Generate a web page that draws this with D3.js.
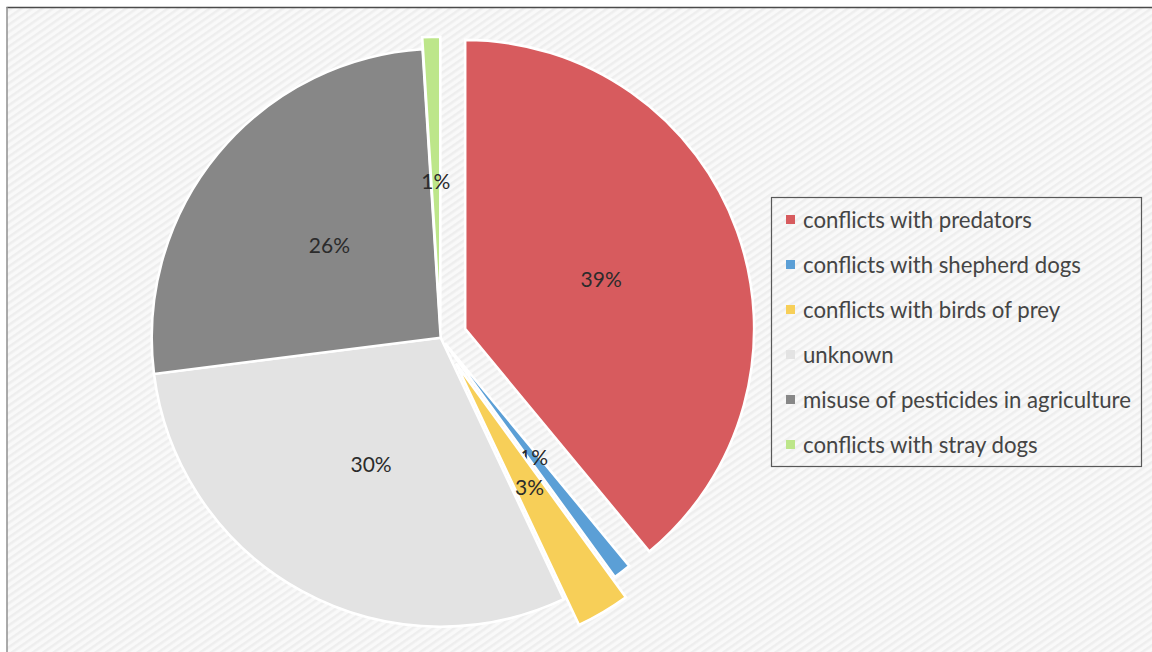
<!DOCTYPE html>
<html>
<head>
<meta charset="utf-8">
<script src="https://cdn.jsdelivr.net/npm/d3@7"></script>
<style>
  html, body { margin: 0; padding: 0; background: #ffffff; }
  svg { display: block; }
</style>
</head>
<body>
<svg id="chart" width="1152" height="652"></svg>
<script>
// Causes of death and their shares (percent)
const causes = [
  "conflicts with predators",
  "conflicts with shepherd dogs",
  "conflicts with birds of prey",
  "unknown",
  "misuse of pesticides in agriculture",
  "conflicts with stray dogs"
];
const shares = [39, 1, 3, 30, 26, 1];

// Slice styling
const sliceColors = ["#d75b5e", "#5b9fd6", "#f7cf58", "#e3e3e3", "#878787", "#bde68a"];
const sliceExplode = [26, 7, 30, 0, 0, 12];

const svg = d3.select("#chart");
const W = 1152, H = 652;

// Fine diagonal texture of the chart area
const defs = svg.append("defs");
const pat = defs.append("pattern")
  .attr("id", "hatch")
  .attr("width", 6).attr("height", 6)
  .attr("patternUnits", "userSpaceOnUse")
  .attr("patternTransform", "rotate(-35)");
pat.append("rect").attr("width", 6).attr("height", 6).attr("fill", "#f9f9f9");
pat.append("rect").attr("width", 6).attr("height", 2.5).attr("fill", "#eeeeee");

// Chart area with frame (top and left edges visible)
svg.append("rect").attr("x", 7).attr("y", 7).attr("width", W).attr("height", H)
  .attr("fill", "url(#hatch)");
svg.append("line").attr("x1", 6.5).attr("x2", W).attr("y1", 7.5).attr("y2", 7.5)
  .attr("stroke", "#4a4a4a").attr("stroke-width", 1.3);
svg.append("line").attr("x1", 7).attr("x2", 7).attr("y1", 7).attr("y2", H)
  .attr("stroke", "#8f8f8f").attr("stroke-width", 1.5);

// Pie
const cx = 440.7, cy = 337.7, R = 289;
const data = causes.map((c, i) => ({ cause: c, value: shares[i], idx: i }));
const pie = d3.pie().sort(null).value(d => d.value).startAngle(0).endAngle(2 * Math.PI);
const arc = d3.arc().innerRadius(0).outerRadius(R);
const arcs = pie(data);

const pieG = svg.append("g").attr("transform", `translate(${cx},${cy})`);

function shift(d) {
  const mid = (d.startAngle + d.endAngle) / 2;
  const off = sliceExplode[d.data.idx];
  return [off * Math.sin(mid), -off * Math.cos(mid)];
}

const slices = pieG.selectAll("g.slice").data(arcs).join("g")
  .attr("class", "slice")
  .attr("transform", d => { const s = shift(d); return `translate(${s[0]},${s[1]})`; });

slices.append("path")
  .attr("d", arc)
  .attr("fill", d => sliceColors[d.data.idx])
  .attr("stroke", "#ffffff")
  .attr("stroke-width", 2.6)
  .attr("stroke-linejoin", "miter");

slices.append("text")
  .attr("transform", d => { const c = arc.centroid(d); return `translate(${c[0]},${c[1]})`; })
  .attr("text-anchor", "middle")
  .attr("dy", "0.35em")
  .attr("font-family", "Lato, 'Open Sans', sans-serif")
  .attr("font-size", 21)
  .attr("fill", "#2b2b2b")
  .text(d => d3.format(".0f")(d.data.value) + "%");

// Legend
const lg = svg.append("g");
lg.append("rect")
  .attr("x", 771.5).attr("y", 197.5).attr("width", 370).attr("height", 269)
  .attr("fill", "url(#hatch)")
  .attr("stroke", "#585858").attr("stroke-width", 1.2);

const rowY = d3.scalePoint().domain(causes).range([219.5, 444.5]);
const items = lg.selectAll("g.item").data(data).join("g")
  .attr("class", "item")
  .attr("transform", d => `translate(0,${rowY(d.cause)})`);
items.append("rect")
  .attr("x", 786).attr("y", -4.5).attr("width", 9).attr("height", 9)
  .attr("fill", d => sliceColors[d.idx]);
items.append("text")
  .attr("x", 803).attr("dy", "0.36em")
  .attr("font-family", "Lato, 'Open Sans', sans-serif")
  .attr("font-size", 22.2)
  .attr("fill", "#454545")
  .text(d => d.cause);
</script>
</body>
</html>
